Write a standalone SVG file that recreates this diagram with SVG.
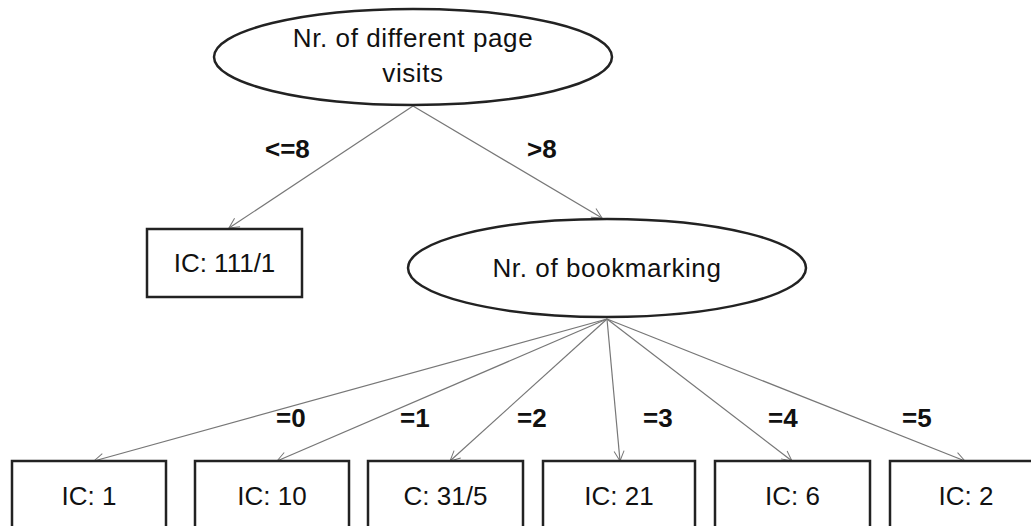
<svg xmlns="http://www.w3.org/2000/svg" width="1031" height="526" viewBox="0 0 1031 526">
<defs>
<marker id="arr" viewBox="0 0 12 12" refX="11" refY="6" markerWidth="12" markerHeight="12" markerUnits="userSpaceOnUse" orient="auto">
<path d="M1,1 L11,6 L1,11" fill="none" stroke="#777" stroke-width="1"/>
</marker>
<style>
.n{fill:#fff;stroke:#222;stroke-width:2.5}
.t{font-family:"Liberation Sans",Arial,sans-serif;font-size:26px;fill:#111;text-anchor:middle}
.w{letter-spacing:0.6px}
.l{font-family:"Liberation Sans",Arial,sans-serif;font-size:26px;font-weight:bold;fill:#111}
.c{stroke:#777;stroke-width:1.2;fill:none;marker-end:url(#arr)}
</style>
</defs>
<rect width="1031" height="526" fill="#fff"/>
<g id="connectors">
<line class="c" x1="413" y1="106" x2="229" y2="228"/>
<line class="c" x1="413" y1="106" x2="602" y2="218"/>
<line class="c" x1="607" y1="319" x2="94" y2="461"/>
<line class="c" x1="607" y1="319" x2="277" y2="461"/>
<line class="c" x1="607" y1="319" x2="450" y2="461"/>
<line class="c" x1="607" y1="319" x2="620" y2="461"/>
<line class="c" x1="607" y1="319" x2="792" y2="461"/>
<line class="c" x1="607" y1="319" x2="965" y2="461"/>
<text class="l" x="265" y="158">&lt;=8</text>
<text class="l" x="527" y="158">&gt;8</text>
<text class="l" x="276" y="427">=0</text>
<text class="l" x="400" y="427">=1</text>
<text class="l" x="517" y="427">=2</text>
<text class="l" x="643" y="427">=3</text>
<text class="l" x="768" y="427">=4</text>
<text class="l" x="902" y="427">=5</text>
</g>
<g id="root">
<ellipse class="n" cx="413" cy="57" rx="199" ry="48"/>
<text class="t w" x="413" y="47">Nr. of different page</text>
<text class="t w" x="413" y="82">visits</text>
</g>
<g id="leaf111">
<rect class="n" x="147" y="229" width="155" height="68"/>
<text class="t" x="224.5" y="272">IC: 111/1</text>
</g>
<g id="bookmarking">
<ellipse class="n" cx="607" cy="268" rx="199" ry="49"/>
<text class="t w" x="607" y="277">Nr. of bookmarking</text>
</g>
<g id="leaf0">
<rect class="n" x="12" y="461" width="154" height="80"/>
<text class="t" x="89" y="505">IC: 1</text>
</g>
<g id="leaf1">
<rect class="n" x="195" y="461" width="154" height="80"/>
<text class="t" x="272" y="505">IC: 10</text>
</g>
<g id="leaf2">
<rect class="n" x="368" y="461" width="155" height="80"/>
<text class="t" x="445.5" y="505">C: 31/5</text>
</g>
<g id="leaf3">
<rect class="n" x="543" y="461" width="152" height="80"/>
<text class="t" x="619" y="505">IC: 21</text>
</g>
<g id="leaf4">
<rect class="n" x="715" y="461" width="155" height="80"/>
<text class="t" x="792.5" y="505">IC: 6</text>
</g>
<g id="leaf5">
<rect class="n" x="890" y="461" width="160" height="80"/>
<text class="t" x="966" y="505">IC: 2</text>
</g>
</svg>
